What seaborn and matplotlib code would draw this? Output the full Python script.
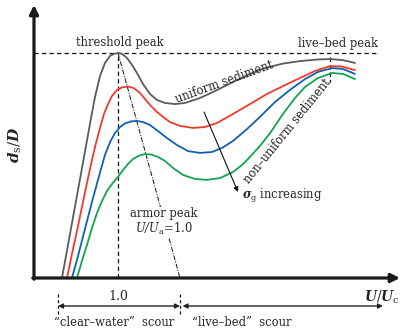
import numpy as np
import pandas as pd
import matplotlib
matplotlib.use("Agg")
import matplotlib.pyplot as plt
import seaborn as sns

# ---- data (U/Uc, ds/D) ----
gray_u = [0.333, 0.405, 0.476, 0.548, 0.619, 0.679, 0.726, 0.786, 0.845, 0.905, 0.952, 1.000, 1.048,
          1.107, 1.167, 1.226, 1.298, 1.381, 1.464, 1.560, 1.679, 1.798, 1.976, 2.155, 2.369, 2.571,
          2.750, 2.964, 3.167, 3.369, 3.524, 3.667, 3.821]
gray_d = [0.000, 0.147, 0.293, 0.440, 0.587, 0.711, 0.804, 0.898, 0.956, 0.987, 0.996, 1.000, 0.996,
          0.978, 0.947, 0.911, 0.862, 0.818, 0.791, 0.778, 0.773, 0.778, 0.800, 0.831, 0.871, 0.907,
          0.933, 0.953, 0.964, 0.971, 0.973, 0.969, 0.956]

red_u = [0.393, 0.452, 0.524, 0.583, 0.643, 0.690, 0.738, 0.786, 0.833, 0.881, 0.929, 0.988, 1.048,
         1.119, 1.190, 1.262, 1.321, 1.381, 1.452, 1.536, 1.619, 1.738, 1.893, 2.036, 2.179, 2.369,
         2.571, 2.774, 2.964, 3.167, 3.345, 3.524, 3.667, 3.821]
red_d = [0.000, 0.107, 0.231, 0.338, 0.444, 0.524, 0.600, 0.667, 0.729, 0.773, 0.809, 0.836, 0.847,
         0.851, 0.844, 0.822, 0.796, 0.769, 0.742, 0.716, 0.693, 0.676, 0.667, 0.671, 0.689, 0.729,
         0.773, 0.818, 0.853, 0.889, 0.920, 0.942, 0.940, 0.924]

blue_u = [0.452, 0.524, 0.607, 0.690, 0.774, 0.845, 0.905, 0.964, 1.024, 1.083, 1.155, 1.226, 1.298,
          1.381, 1.476, 1.583, 1.702, 1.833, 1.976, 2.119, 2.238, 2.369, 2.536, 2.690, 2.869, 3.048,
          3.226, 3.381, 3.548, 3.679, 3.821]
blue_d = [0.000, 0.098, 0.218, 0.338, 0.453, 0.547, 0.604, 0.644, 0.671, 0.687, 0.696, 0.698, 0.693,
          0.680, 0.653, 0.622, 0.591, 0.564, 0.556, 0.560, 0.578, 0.609, 0.662, 0.716, 0.782, 0.836,
          0.884, 0.916, 0.933, 0.929, 0.907]

green_u = [0.512, 0.571, 0.631, 0.690, 0.750, 0.810, 0.869, 0.929, 0.988, 1.060, 1.119, 1.179, 1.250,
           1.321, 1.393, 1.476, 1.560, 1.655, 1.774, 1.917, 2.060, 2.214, 2.369, 2.476, 2.571, 2.690,
           2.810, 2.964, 3.107, 3.226, 3.381, 3.548, 3.679, 3.821]
green_d = [0.000, 0.076, 0.147, 0.222, 0.289, 0.342, 0.387, 0.418, 0.444, 0.480, 0.507, 0.529, 0.544,
           0.551, 0.549, 0.538, 0.520, 0.489, 0.458, 0.440, 0.436, 0.444, 0.471, 0.502, 0.538, 0.587,
           0.644, 0.729, 0.800, 0.849, 0.889, 0.911, 0.907, 0.884]

series_names = ["uniform", "s1", "s2", "s3"]
series_colors = ["#585c5c", "#f23a2c", "#1160b2", "#12a452"]

threshold_u = 1.0
threshold_d = 1.0
livebed_u = 3.524
armor_u_end = 1.738
clear_water_start = 0.286
clear_water_end = 1.738
live_bed_end = 4.155

# ---- build table ----
rows = []
for name, us, ds in zip(series_names, [gray_u, red_u, blue_u, green_u],
                        [gray_d, red_d, blue_d, green_d]):
    for u, d in zip(us, ds):
        rows.append({"U": u, "d": d, "curve": name})
df = pd.DataFrame(rows)

# ---- style ----
sns.set_theme(style="white")
plt.rcParams["font.family"] = ["DejaVu Serif"]
plt.rcParams["mathtext.fontset"] = "custom"
plt.rcParams["mathtext.it"] = "DejaVu Serif:italic:bold"
plt.rcParams["mathtext.rm"] = "DejaVu Serif"
plt.rcParams["mathtext.sf"] = "DejaVu Serif:italic"
plt.rcParams["mathtext.bf"] = "DejaVu Serif:bold"

W, H = 401, 329
fig = plt.figure(figsize=(W / 100, H / 100), dpi=100)
ax = fig.add_axes([0, 0, 1, 1])
X0, Y0, SX, SY = 34, 278, 84.0, 225.0
ax.set_xlim(-X0 / SX, (W - X0) / SX)
ax.set_ylim((Y0 - H) / SY, Y0 / SY)
ax.axis("off")


def P(px, py):
    return ((px - X0) / SX, (Y0 - py) / SY)


sns.lineplot(data=df, x="U", y="d", hue="curve", hue_order=series_names,
             palette=series_colors, sort=False, estimator=None, lw=1.3,
             legend=False, ax=ax, zorder=3)

# axes with arrows
ax.annotate("", xy=P(34, 5), xytext=P(34, 279.2),
            arrowprops=dict(arrowstyle="-|>", lw=2.3, color="#1a1a1a",
                            mutation_scale=13, shrinkA=0, shrinkB=0))
ax.annotate("", xy=P(400, 278), xytext=P(32.8, 278),
            arrowprops=dict(arrowstyle="-|>", lw=2.3, color="#1a1a1a",
                            mutation_scale=13, shrinkA=0, shrinkB=0))

dash = (0, (3.5, 2.5))
# threshold line
ax.plot([0, P(377, 0)[0]], [threshold_d, threshold_d], color="#111", lw=0.9, ls=dash)
ax.plot([threshold_u, threshold_u], [0, threshold_d], color="#111", lw=0.9, ls=dash)
# live-bed peak marker
ax.plot([livebed_u, livebed_u], [P(0, 57)[1], P(0, 82)[1]], color="#111", lw=0.9, ls=dash)
# armor line
ax.plot([threshold_u, armor_u_end], [threshold_d, 0], color="#111", lw=0.7,
        ls=(0, (5, 1.5, 1, 1.5)))

fs = 8.3
ax.text(*P(120, 43), "threshold peak", ha="center", va="center", fontsize=fs)
ax.text(*P(338, 44), "live\u2013bed peak", ha="center", va="center", fontsize=fs)
ax.text(*P(224, 82), "uniform sediment", ha="center", va="center", fontsize=fs,
        rotation=20, rotation_mode="anchor")
ax.text(*P(287, 131), "non\u2013uniform sediment", ha="center", va="center", fontsize=fs,
        rotation=51, rotation_mode="anchor")
ax.text(*P(164, 214), "armor peak", ha="center", va="center", fontsize=fs,
        bbox=dict(facecolor="white", edgecolor="none", pad=0.5))
ax.text(*P(164, 229), r"$\mathsf{U/U}_{\mathrm{a}}$=1.0", ha="center", va="center", fontsize=fs,
        bbox=dict(facecolor="white", edgecolor="none", pad=0.5))
ax.text(*P(242, 196), r"$\sigma_{\mathrm{g}}$ increasing", ha="left", va="center", fontsize=fs)
ax.annotate("", xy=P(238, 192), xytext=P(204, 112),
            arrowprops=dict(arrowstyle="-|>", lw=0.8, color="#111",
                            mutation_scale=7, shrinkA=0, shrinkB=0))

# labels
ax.text(*P(15, 145), r"$d_{\mathrm{s}}/D$", ha="center", va="center", fontsize=11, rotation=90)
ax.text(*P(382, 297), r"$U/U_{\mathrm{c}}$", ha="center", va="center", fontsize=10)

# bottom dimension lines
ax.text(*P(118, 297), "1.0", ha="center", va="center", fontsize=9)
for xu in [clear_water_start, clear_water_end]:
    ax.plot([xu, xu], [P(0, 294)[1], P(0, 315)[1]], color="#111", lw=0.9, ls=(0, (2.5, 2)))
yb = P(0, 306)[1]
ax.annotate("", xy=(clear_water_start, yb), xytext=(clear_water_end, yb),
            arrowprops=dict(arrowstyle="<|-|>", lw=1.0, color="#222",
                            mutation_scale=7, shrinkA=0, shrinkB=0))
ax.annotate("", xy=(live_bed_end, yb), xytext=(clear_water_end + 0.03, yb),
            arrowprops=dict(arrowstyle="<|-|>", lw=1.0, color="#222",
                            mutation_scale=7, shrinkA=0, shrinkB=0))
ax.text(*P(114, 322), "\u201cclear\u2013water\u201d  scour", ha="center", va="center", fontsize=fs)
ax.text(*P(242, 322), "\u201clive\u2013bed\u201d  scour", ha="center", va="center", fontsize=fs)

fig.savefig("out.png", dpi=100)
